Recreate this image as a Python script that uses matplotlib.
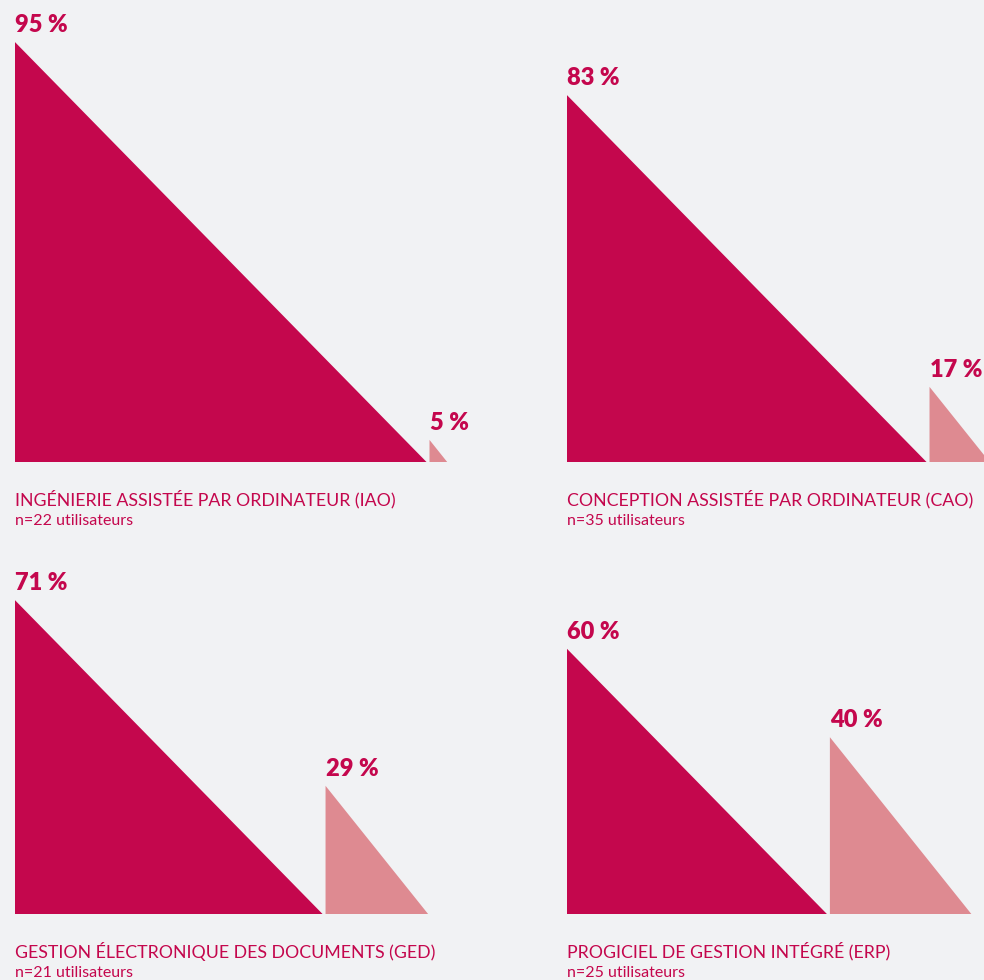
import matplotlib
matplotlib.use("Agg")
import matplotlib.pyplot as plt
from matplotlib.patches import Polygon

# data
titles = [
    "INGÉNIERIE ASSISTÉE PAR ORDINATEUR (IAO)",
    "CONCEPTION ASSISTÉE PAR ORDINATEUR (CAO)",
    "GESTION ÉLECTRONIQUE DES DOCUMENTS (GED)",
    "PROGICIEL DE GESTION INTÉGRÉ (ERP)",
]
users = [22, 35, 21, 25]
main_share = [95, 83, 71, 60]
other_share = [5, 17, 29, 40]

BG = "#F1F2F4"
DARK = "#C4074D"
LIGHT = "#DE8A91"

W, H = 984, 980
DPI = 100
S = 4.42  # pixels per percent point

plt.rcParams["font.family"] = ["Lato", "DejaVu Sans"]

fig = plt.figure(figsize=(W / DPI, H / DPI), dpi=DPI, facecolor=BG)

# panel origins (left, bottom of triangle base) in pixels
origins = [(15, 518), (567, 518), (15, 66), (567, 66)]


def triangle(ax, x0, h, ratio, color):
    w = h * ratio
    ax.add_patch(Polygon([(x0, 0), (x0 + w, 0), (x0, h)], closed=True,
                         facecolor=color, edgecolor="none", clip_on=False))
    ax.text(x0, h + 6 / S, f"{h} %", ha="left", va="bottom", color=DARK,
            fontsize=17, fontweight="heavy", clip_on=False)
    return x0 + w


for i, (ox, oy) in enumerate(origins):
    aw, ah = 420, 440
    ax = fig.add_axes([ox / W, oy / H, aw / W, ah / H])
    ax.set_xlim(0, aw / S)
    ax.set_ylim(0, ah / S)
    ax.axis("off")

    end = triangle(ax, 0, main_share[i], 0.98, DARK)
    triangle(ax, end + 3 / S, other_share[i], 0.8, LIGHT)

    ax.text(0, -37 / S, titles[i], ha="left", va="center", color=DARK,
            fontsize=12.8, clip_on=False)
    ax.text(0, -59 / S, f"n={users[i]} utilisateurs", ha="left", va="center",
            color=DARK, fontsize=11.5, clip_on=False)

fig.savefig("out.png", dpi=DPI, facecolor=BG)
